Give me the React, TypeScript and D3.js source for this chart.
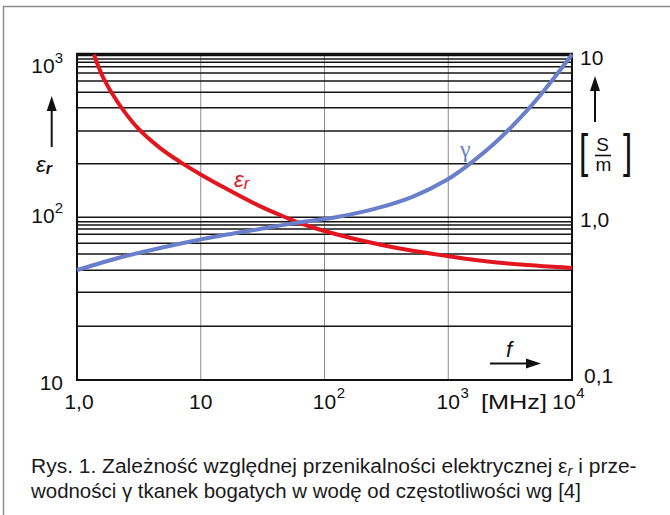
import React, { useRef, useEffect } from 'react'
import * as d3 from 'd3'

// relative permittivity eps_r vs frequency [MHz]
const epsFreq = [1.37, 1.62, 2.1, 3.05, 4.7, 6.8, 9.9, 16.3, 30, 50, 63, 122, 385, 980, 2480, 10000]
const epsValues = [1000, 727, 518, 358, 266, 219, 184, 149, 117, 98.9, 92.2, 78.9, 64.7, 57.8, 52.7, 48.8]

// conductivity gamma [S/m] vs frequency [MHz]
const gammaFreq = [1, 2.23, 4.69, 8.66, 16.3, 30.1, 55.6, 133, 281, 519, 977, 1420, 2480, 4580, 6640, 10000]
const gammaValues = [0.474, 0.566, 0.647, 0.715, 0.783, 0.847, 0.917, 1.01, 1.15, 1.34, 1.7, 2.07, 2.94, 4.75, 6.67, 10]

// horizontal grid lines as drawn in the figure (eps_r values)
const epsGrid = [21.4, 34.6, 47.2, 59.5, 69.2, 78.6, 84.7, 89.6, 93.9, 100, 213, 339, 471, 586, 688, 770, 842, 896, 938]
const freqGrid = [10, 100, 1000]

const xTicks = [
  { value: 1, text: '1,0', sup: '' },
  { value: 10, text: '10', sup: '' },
  { value: 100, text: '10', sup: '2' },
  { value: 1000, text: '10', sup: '3' },
  { value: 10000, text: '10', sup: '4' },
]
const leftTicks = [
  { value: 1000, text: '10', sup: '3' },
  { value: 100, text: '10', sup: '2' },
  { value: 10, text: '10', sup: '' },
]
const rightTicks = [
  { value: 10, text: '10' },
  { value: 1, text: '1,0' },
  { value: 0.1, text: '0,1' },
]

const caption1 = ['Rys. 1. Zależność względnej przenikalności elektrycznej ε', 'r', ' i prze-']
const caption2 = 'wodności γ tkanek bogatych w wodę od częstotliwości wg [4]'

const RED = '#e3161f'
const BLUE = '#6a7fcb'
const FONT = 'Liberation Sans, Arial, Helvetica, sans-serif'

export default function App() {
  const svgRef = useRef<SVGSVGElement>(null)

  useEffect(() => {
    const W = 670
    const H = 515
    const m = { left: 77, right: 572, top: 54.5, bottom: 380 }

    const svg = d3.select(svgRef.current)
    svg.selectAll('*').remove()
    svg.attr('width', W).attr('height', H).style('font-family', FONT)

    const x = d3.scaleLog().domain([1, 1e4]).range([m.left, m.right])
    const yEps = d3.scaleLog().domain([10, 1000]).range([m.bottom, m.top])
    const yGam = d3.scaleLog().domain([0.1, 10]).range([m.bottom, m.top])

    svg.append('rect').attr('width', W).attr('height', H).attr('fill', '#fff')
    // outer frame of the figure
    svg.append('path')
      .attr('d', `M3.5,${H} V6.5 H${W}`)
      .attr('fill', 'none').attr('stroke', '#8f8f8f').attr('stroke-width', 1.5)

    // grid
    svg.append('g').selectAll('line').data(freqGrid).join('line')
      .attr('x1', d => x(d)).attr('x2', d => x(d))
      .attr('y1', m.top).attr('y2', m.bottom)
      .attr('stroke', '#8c8c8c').attr('stroke-width', 1)
    svg.append('g').selectAll('line').data(epsGrid).join('line')
      .attr('x1', m.left).attr('x2', m.right)
      .attr('y1', d => yEps(d)).attr('y2', d => yEps(d))
      .attr('stroke', '#151515').attr('stroke-width', 1.5)

    svg.append('rect')
      .attr('x', m.left).attr('y', m.top)
      .attr('width', m.right - m.left).attr('height', m.bottom - m.top)
      .attr('fill', 'none').attr('stroke', '#111').attr('stroke-width', 2)
    svg.append('line')
      .attr('x1', m.left - 1).attr('x2', m.right + 1)
      .attr('y1', m.top).attr('y2', m.top)
      .attr('stroke', '#111').attr('stroke-width', 3.5)

    // curves
    const epsLine = d3.line<number>()
      .x((d, i) => x(epsFreq[i]))
      .y(d => yEps(d))
      .curve(d3.curveCatmullRom.alpha(0.5))
    const gamLine = d3.line<number>()
      .x((d, i) => x(gammaFreq[i]))
      .y(d => yGam(d))
      .curve(d3.curveCatmullRom.alpha(0.5))

    svg.append('path').attr('d', epsLine(epsValues))
      .attr('fill', 'none').attr('stroke', RED).attr('stroke-width', 4)
    svg.append('path').attr('d', gamLine(gammaValues))
      .attr('fill', 'none').attr('stroke', BLUE).attr('stroke-width', 4)

    // x axis labels
    const xl = svg.append('g').attr('font-size', 21).attr('fill', '#111')
    xTicks.forEach((t, i) => {
      const nudge = i === 0 ? 2 : i === xTicks.length - 1 ? -8 : 0
      const cx = x(t.value) + nudge
      const base = xl.append('text').attr('x', cx).attr('y', 409)
        .attr('text-anchor', 'middle').text(t.text)
      if (t.sup) {
        const w = (base.node() as SVGTextElement).getComputedTextLength()
        xl.append('text').attr('x', cx + w / 2 + 0.5).attr('y', 398)
          .attr('font-size', 15).text(t.sup)
      }
    })
    xl.append('text').attr('x', 481).attr('y', 409)
      .attr('textLength', 66).attr('lengthAdjust', 'spacingAndGlyphs').text('[MHz]')

    // left labels
    const ll = svg.append('g').attr('font-size', 21).attr('fill', '#111')
    leftTicks.forEach((t, i) => {
      const y0 = yEps(t.value)
      const by = i === 0 ? y0 + 18.5 : i === leftTicks.length - 1 ? y0 + 10 : y0 + 6
      const txt = ll.append('text').attr('x', 63).attr('y', by).attr('text-anchor', 'end')
      txt.append('tspan').text(t.text)
      if (t.sup) txt.append('tspan').attr('dy', -10).attr('font-size', 15).text(t.sup)
    })

    // right labels
    const rl = svg.append('g').attr('font-size', 21).attr('fill', '#111')
    rightTicks.forEach((t, i) => {
      const y0 = yGam(t.value)
      const by = i === 0 ? y0 + 10.5 : i === rightTicks.length - 1 ? y0 + 3 : y0 + 10
      rl.append('text').attr('x', i === rightTicks.length - 1 ? 584 : 580).attr('y', by).text(t.text)
    })

    // arrows
    const arrow = (x1: number, y1: number, x2: number, y2: number) => {
      const a = Math.atan2(y2 - y1, x2 - x1)
      const len = 15
      const hw = 5
      const bx = x2 - len * Math.cos(a)
      const by = y2 - len * Math.sin(a)
      svg.append('line').attr('x1', x1).attr('y1', y1).attr('x2', bx).attr('y2', by)
        .attr('stroke', '#111').attr('stroke-width', 2)
      const p = d3.path()
      p.moveTo(x2, y2)
      p.lineTo(bx + hw * Math.sin(a), by - hw * Math.cos(a))
      p.lineTo(bx - hw * Math.sin(a), by + hw * Math.cos(a))
      p.closePath()
      svg.append('path').attr('d', p.toString()).attr('fill', '#111')
    }
    arrow(51.7, 147, 51.7, 96)
    arrow(595, 122, 595, 76)
    arrow(490, 363.5, 541, 363.5)

    // axis titles
    const epsT = svg.append('text').attr('x', 36).attr('y', 172).attr('font-size', 22).attr('fill', '#111')
    epsT.append('tspan').attr('font-style', 'italic').text('ε')
    epsT.append('tspan').attr('font-style', 'italic').attr('font-weight', 'bold')
      .attr('font-size', 16).attr('dy', 2).text('r')

    svg.append('text').attr('x', 506).attr('y', 357).attr('font-size', 22)
      .attr('font-style', 'italic').attr('fill', '#111').text('f')

    const unit = svg.append('g').attr('fill', '#111')
    unit.append('text').attr('transform', 'translate(579,167) scale(0.72,1)').attr('font-size', 46).text('[')
    unit.append('text').attr('transform', 'translate(623,167) scale(0.72,1)').attr('font-size', 46).text(']')
    unit.append('text').attr('x', 602.5).attr('y', 151).attr('font-size', 19)
      .attr('text-anchor', 'middle').text('S')
    unit.append('line').attr('x1', 595).attr('x2', 611).attr('y1', 155.5).attr('y2', 155.5)
      .attr('stroke', '#111').attr('stroke-width', 1.6)
    unit.append('text').attr('x', 603.5).attr('y', 170.5).attr('font-size', 19)
      .attr('text-anchor', 'middle').text('m')

    // curve labels
    const redT = svg.append('text').attr('x', 234).attr('y', 187).attr('font-size', 22).attr('fill', RED)
    redT.append('tspan').attr('font-style', 'italic').text('ε')
    redT.append('tspan').attr('font-style', 'italic').attr('font-size', 17).attr('dy', 2).text('r')

    svg.append('text').attr('x', 460).attr('y', 157).attr('font-size', 24)
      .attr('font-family', 'Liberation Serif, DejaVu Serif, serif').attr('fill', BLUE).text('γ')

    // caption
    const fitText = (sel: any, x0: number, y0: number, width: number) => {
      const w = (sel.node() as SVGTextElement).getBBox().width
      sel.attr('transform', `translate(${x0},${y0}) scale(${width / w},1)`)
    }
    const capFont = 'Liberation Sans Narrow, Liberation Sans, Arial, sans-serif'
    const c1 = svg.append('text').attr('font-size', 21).attr('font-family', capFont).attr('fill', '#1a1a1a')
    c1.append('tspan').text(caption1[0])
    c1.append('tspan').attr('font-style', 'italic').attr('font-size', 15).attr('dy', 3).text(caption1[1])
    c1.append('tspan').attr('dy', -3).text(caption1[2])
    fitText(c1, 31, 472.5, 606)
    const c2 = svg.append('text').attr('font-size', 21).attr('font-family', capFont).attr('fill', '#1a1a1a')
      .text(caption2)
    fitText(c2, 31, 497.5, 551)
  }, [])

  return (
    <div style={{ position: 'absolute', left: 0, top: 0 }}>
      <svg ref={svgRef}></svg>
    </div>
  )
}
